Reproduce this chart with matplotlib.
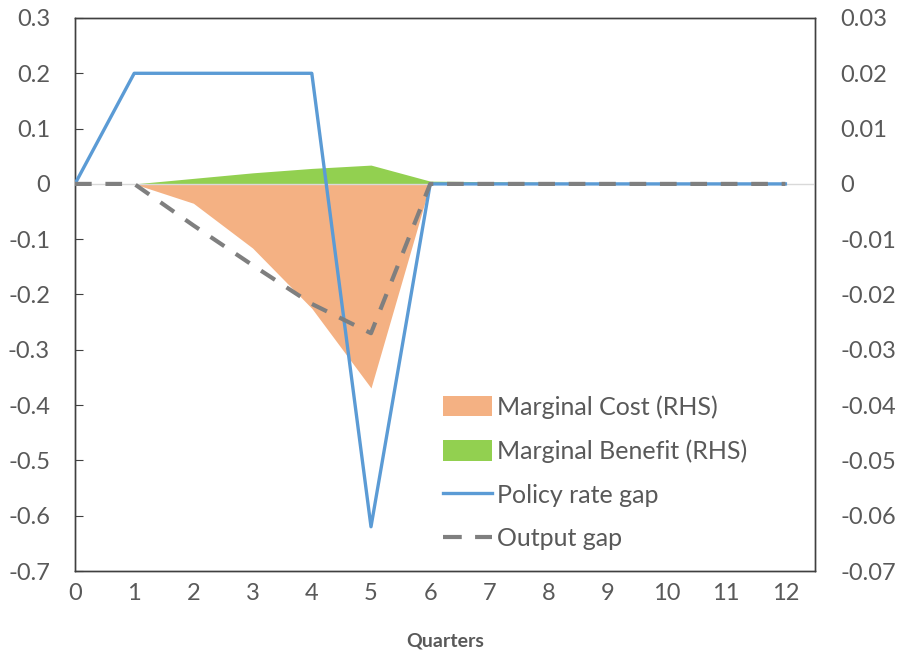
import matplotlib
matplotlib.use("Agg")
import matplotlib.pyplot as plt
from matplotlib.patches import Patch
from matplotlib.lines import Line2D

quarters = list(range(13))
policy_rate_gap = [0, 0.2, 0.2, 0.2, 0.2, -0.62, 0, 0, 0, 0, 0, 0, 0]
output_gap = [0, 0, -0.075, -0.147, -0.217, -0.27, 0, 0, 0, 0, 0, 0, 0]
marginal_cost = [0, 0, -0.0035, -0.0116, -0.0225, -0.0369, 0, 0, 0, 0, 0, 0, 0]
marginal_benefit = [0, 0, 0.0010, 0.0020, 0.0028, 0.0034, 0.0005, 0.0004, 0.0003, 0.0002, 0.0001, 0.0001, 0]
left_ticks = [0.3, 0.2, 0.1, 0, -0.1, -0.2, -0.3, -0.4, -0.5, -0.6, -0.7]
left_labels = ["0.3", "0.2", "0.1", "0", "-0.1", "-0.2", "-0.3", "-0.4", "-0.5", "-0.6", "-0.7"]
right_ticks = [0.03, 0.02, 0.01, 0, -0.01, -0.02, -0.03, -0.04, -0.05, -0.06, -0.07]
right_labels = ["0.03", "0.02", "0.01", "0", "-0.01", "-0.02", "-0.03", "-0.04", "-0.05", "-0.06", "-0.07"]

plt.rcParams['font.family'] = ['Lato', 'DejaVu Sans']
txt = '#595959'
c_cost = '#F4B183'
c_ben = '#92D050'
c_pol = '#5B9BD5'
c_out = '#7F7F7F'

fig = plt.figure(figsize=(8.97, 6.55), dpi=100)
ax = fig.add_axes([75/897, 1-571/655, (815-75)/897, (571-18)/655])
ax2 = ax.twinx()
ax2.set_zorder(ax.get_zorder() - 1)
ax.patch.set_visible(False)

# areas on RHS
ax2.fill_between(quarters, marginal_cost, 0, color=c_cost, linewidth=0)
ax2.fill_between(quarters, marginal_benefit, 0, color=c_ben, linewidth=0)
ax2.set_ylim(-0.07, 0.03)
ax2.set_yticks(right_ticks)
ax2.set_yticklabels(right_labels)
ax2.tick_params(axis='y', length=0, labelsize=17, colors=txt, pad=18)

ax.axhline(0, color='#D9D9D9', lw=1, zorder=1)
ax.plot(quarters, policy_rate_gap, color=c_pol, lw=2.4, zorder=3)
ax.plot(quarters, output_gap, color=c_out, lw=3, dashes=(4, 3.3), zorder=4)
ax.set_ylim(-0.7, 0.3)
ax.set_xlim(0, 12.5)
ax.set_yticks(left_ticks)
ax.set_yticklabels(left_labels)
ax.set_xticks(quarters)
ax.tick_params(axis='y', direction='in', length=6, labelsize=17, colors=txt, pad=18, color='#404040')
ax.tick_params(axis='x', length=0, labelsize=17, colors=txt, pad=9)
ax.set_xlabel('Quarters', fontsize=14, fontweight='bold', color=txt, labelpad=20)

for a in (ax, ax2):
    for s in a.spines.values():
        s.set_color('#404040')
        s.set_linewidth(1.0)

handles = [Patch(facecolor=c_cost, edgecolor='none'),
           Patch(facecolor=c_ben, edgecolor='none'),
           Line2D([0], [0], color=c_pol, lw=2.4),
           Line2D([0], [0], color=c_out, lw=3, dashes=(4.5, 3.2))]
labels = ['Marginal Cost (RHS)', 'Marginal Benefit (RHS)', 'Policy rate gap', 'Output gap']
leg = ax.legend(handles, labels, loc='upper left',
                bbox_to_anchor=(443/897, 1-395/655), bbox_transform=fig.transFigure,
                borderaxespad=0, borderpad=0,
                frameon=False, fontsize=18, labelcolor=txt, handlelength=1.95,
                handletextpad=0.22, labelspacing=0.83, handleheight=0.9)

fig.savefig('out.png', dpi=100)
